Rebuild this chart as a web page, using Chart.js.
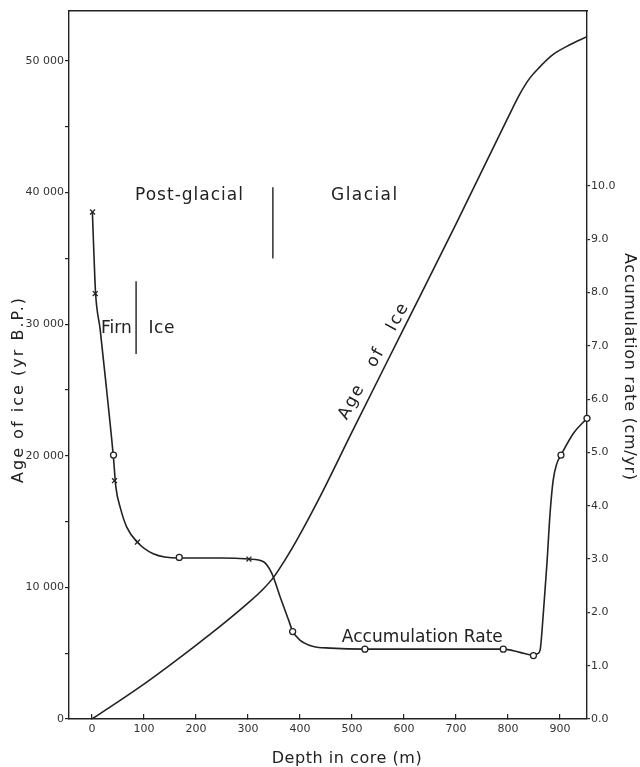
<!DOCTYPE html>
<html><head><meta charset="utf-8">
<script src="https://cdn.jsdelivr.net/npm/chart.js@4.4.1/dist/chart.umd.min.js"></script>
<style>html,body{margin:0;padding:0;background:#fff;}#wrap{width:640px;height:767px;}</style>
</head><body><div id="wrap"><canvas id="c" width="640" height="767"></canvas></div>
<script>
// ---- Data ----
// Age of ice (yr B.P.) versus depth (m)
const ageDepth = [0, 50, 100, 150, 200, 250, 300, 330, 350, 370, 394, 440, 500, 600, 700, 800, 823, 842, 860, 887, 920, 952];
const ageYears = [0, 1300, 2650, 4100, 5600, 7150, 8800, 9900, 10800, 12000, 13600, 17000, 21800, 29700, 37600, 45700, 47500, 48700, 49500, 50500, 51250, 51850];

// Accumulation rate (cm/yr) versus depth (m) - traced curve
const rateDepth = [1, 4, 7, 16, 29, 41.5, 46, 55, 67, 87, 118, 168, 250, 302, 330, 346, 362, 378, 386, 400, 426, 458, 525, 650, 791, 823, 849, 858, 862, 868, 875, 881, 887, 894, 902, 926, 952];
const rateValues = [9.5, 8.7, 8.0, 7.3, 6.11, 4.9, 4.36, 3.95, 3.6, 3.32, 3.1, 3.02, 3.02, 3.0, 2.95, 2.73, 2.29, 1.86, 1.65, 1.48, 1.36, 1.33, 1.31, 1.31, 1.31, 1.25, 1.2, 1.23, 1.3, 1.98, 2.92, 3.86, 4.48, 4.79, 4.95, 5.36, 5.64];

// Plotted measurement symbols
const crossDepth = [1.2, 6.5, 43.5, 87.7, 302];
const crossRate  = [9.51, 7.98, 4.47, 3.32, 3.0];
const circleDepth = [41.6, 168, 386, 525, 791, 849, 902, 952];
const circleRate  = [4.95, 3.03, 1.64, 1.31, 1.31, 1.19, 4.95, 5.64];

// Axis ticks
const depthTicks = [0, 100, 200, 300, 400, 500, 600, 700, 800, 900];
const depthTickLabels = ['0', '100', '200', '300', '400', '500', '600', '700', '800', '900'];
const ageTicks = [0, 5000, 10000, 15000, 20000, 25000, 30000, 35000, 40000, 45000, 50000];
const ageTickLabels = ['0', '', '10 000', '', '20 000', '', '30 000', '', '40 000', '', '50 000'];
const rateTicks = [0, 1, 2, 3, 4, 5, 6, 7, 8, 9, 10];
const rateTickLabels = ['0.0', '1.0', '2.0', '3.0', '4.0', '5.0', '6.0', '7.0', '8.0', '9.0', '10.0'];

// Texts
const xTitle = 'Depth in core (m)';
const yTitle = 'Age of ice (yr B.P.)';
const y2Title = 'Accumulation rate (cm/yr)';

// ---- Styles / layout ----
const INK = '#222';
const FONT = 'DejaVu Sans';

const pts = (xs, ys) => xs.map((x, i) => ({x: x, y: ys[i]}));

// In-plot annotations (anchored in data coordinates)
const notes = [
  {text: 'Post-glacial', x: 83, y: 39430, axis: 'y', width: 108, size: 17},
  {text: 'Glacial', x: 460, y: 39430, axis: 'y', width: 66, size: 17},
  {text: 'Firn', x: 17.3, y: 29310, axis: 'y', width: 31, size: 17},
  {text: 'Ice', x: 108.8, y: 29310, axis: 'y', width: 26, size: 17},
  {text: 'Accumulation Rate', x: 480.5, y: 1.45, axis: 'y2', width: 161, size: 17},
  {text: 'Age   of   Ice', x: 490, y: 22680, axis: 'y', width: 129, size: 17, angle: -61.5}
];
const rules = [
  {x: 348, y1: 35000, y2: 40400},
  {x: 85, y1: 27740, y2: 33260}
];

function fittedText(ctx, text, x, y, width, size, angle) {
  ctx.save();
  ctx.font = size + 'px "' + FONT + '"';
  ctx.letterSpacing = '0px';
  const w0 = ctx.measureText(text).width;
  const n = [...text].length;
  const ls = n > 1 ? (width - w0) / (n - 1) : 0;
  ctx.letterSpacing = ls.toFixed(2) + 'px';
  ctx.fillStyle = INK;
  ctx.textAlign = 'left';
  ctx.textBaseline = 'alphabetic';
  ctx.translate(x, y);
  if (angle) ctx.rotate(angle * Math.PI / 180);
  ctx.fillText(text, 0, 0);
  ctx.restore();
}

const annotate = {
  id: 'annotate',
  afterDraw(chart) {
    const ctx = chart.ctx;
    const sx = chart.scales.x, sy = chart.scales.y;
    const a = chart.chartArea;
    ctx.save();
    ctx.strokeStyle = INK;
    ctx.lineWidth = 1.4;
    rules.forEach(r => {
      const px = sx.getPixelForValue(r.x);
      ctx.beginPath();
      ctx.moveTo(px, sy.getPixelForValue(r.y1));
      ctx.lineTo(px, sy.getPixelForValue(r.y2));
      ctx.stroke();
    });
    ctx.restore();
    notes.forEach(nt => {
      const s = chart.scales[nt.axis];
      fittedText(ctx, nt.text, sx.getPixelForValue(nt.x), s.getPixelForValue(nt.y), nt.width, nt.size, nt.angle || 0);
    });
    // axis titles
    fittedText(ctx, xTitle, a.left + 202.7, a.bottom + 44, 150, 16, 0);
    fittedText(ctx, yTitle, 23, a.bottom - 236, 185, 16, -90);
    fittedText(ctx, y2Title, a.right + 38, a.top + 242, 227, 16, 90);
  }
};

const tickFont = {family: FONT, size: 11};

new Chart(document.getElementById('c'), {
  type: 'scatter',
  data: {
    datasets: [
      {
        label: 'Crosses', data: pts(crossDepth, crossRate), yAxisID: 'y2', xAxisID: 'x',
        showLine: false, pointStyle: 'crossRot', pointRadius: 3.5, borderColor: INK, borderWidth: 1.3,
        backgroundColor: INK, clip: false, order: 0
      },
      {
        label: 'Circles', data: pts(circleDepth, circleRate), yAxisID: 'y2', xAxisID: 'x',
        showLine: false, pointStyle: 'circle', pointRadius: 3, borderColor: INK, borderWidth: 1.3,
        backgroundColor: '#fff', clip: false, order: 0
      },
      {
        label: 'Accumulation rate', data: pts(rateDepth, rateValues), yAxisID: 'y2', xAxisID: 'x',
        showLine: true, pointRadius: 0, borderColor: INK, borderWidth: 1.6,
        cubicInterpolationMode: 'monotone', fill: false, order: 1
      },
      {
        label: 'Age of ice', data: pts(ageDepth, ageYears), yAxisID: 'y', xAxisID: 'x',
        showLine: true, pointRadius: 0, borderColor: INK, borderWidth: 1.6,
        cubicInterpolationMode: 'monotone', fill: false, order: 2
      }
    ]
  },
  options: {
    responsive: false,
    animation: false,
    layout: {padding: {top: 11, left: 0, right: 0, bottom: 0}},
    plugins: {legend: {display: false}, tooltip: {enabled: false}},
    scales: {
      x: {
        type: 'linear', position: 'bottom', min: -44, max: 952,
        afterBuildTicks: s => { s.ticks = depthTicks.map(v => ({value: v})); },
        afterFit: s => { s.height = 48; },
        ticks: {autoSkip: false, maxRotation: 0, padding: 9, color: '#333', font: tickFont,
          callback: v => { const i = depthTicks.indexOf(v); return i < 0 ? '' : depthTickLabels[i]; }},
        grid: {drawOnChartArea: false, drawTicks: true, tickLength: -5, color: INK, lineWidth: 1.2},
        border: {display: true, color: INK, width: 1.4}
      },
      xTop: {
        type: 'linear', position: 'top', min: -44, max: 952,
        afterFit: s => { s.height = 0; },
        ticks: {display: false},
        grid: {display: false, drawTicks: false},
        border: {display: true, color: INK, width: 1.4}
      },
      y: {
        type: 'linear', position: 'left', min: 0, max: 53800,
        afterBuildTicks: s => { s.ticks = ageTicks.map(v => ({value: v})); },
        afterFit: s => { s.width = 69; },
        ticks: {autoSkip: false, padding: 1, color: '#333', font: tickFont,
          callback: v => { const i = ageTicks.indexOf(v); return i < 0 ? '' : ageTickLabels[i]; }},
        grid: {drawOnChartArea: false, tickLength: 4, color: INK, lineWidth: 1.2},
        border: {display: true, color: INK, width: 1.4}
      },
      y2: {
        type: 'linear', position: 'right', min: 0, max: 13.28,
        afterBuildTicks: s => { s.ticks = rateTicks.map(v => ({value: v})); },
        afterFit: s => { s.width = 53; },
        ticks: {autoSkip: false, padding: 1, color: '#333', font: tickFont,
          callback: v => { const i = rateTicks.indexOf(v); return i < 0 ? '' : rateTickLabels[i]; }},
        grid: {drawOnChartArea: false, tickLength: 3, color: INK, lineWidth: 1.2},
        border: {display: true, color: INK, width: 1.4}
      }
    }
  },
  plugins: [annotate]
});
</script>
</body></html>
